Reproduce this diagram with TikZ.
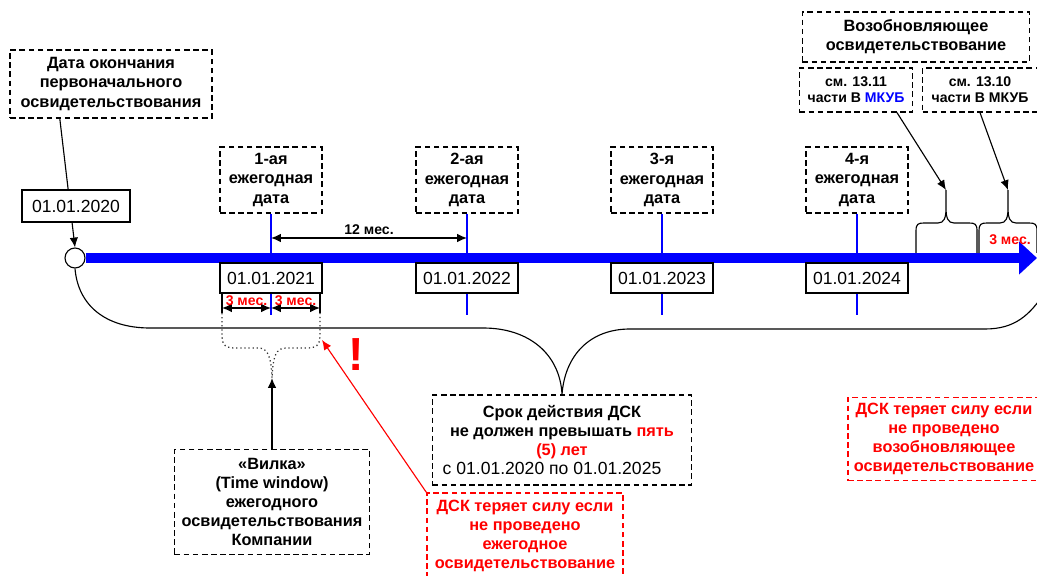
\documentclass[tikz,border=0pt]{standalone}
\usepackage{fontspec}
\setmainfont{Liberation Sans}
\usetikzlibrary{arrows.meta}

\tikzset{
  note/.style={draw, dash pattern=on 4pt off 2.5pt, line width=0.9pt, align=center, inner sep=0pt,
    font=\bfseries\fontsize{11.6}{13.6}\selectfont},
  rednote/.style={note, red, text=red},
  datebox/.style={draw, line width=0.9pt, fill=white, inner sep=0pt,
    minimum width=2.55cm, minimum height=0.75cm, font=\fontsize{12.5}{15}\selectfont},
  tick/.style={blue, line width=1.8pt},
  small/.style={font=\bfseries\fontsize{10}{11.6}\selectfont},
  arr/.style={-{Latex[length=7pt,width=6pt]}, line width=0.8pt},
  dbl/.style={{Latex[length=7pt,width=6pt]}-{Latex[length=7pt,width=6pt]}, line width=0.8pt},
}

\begin{document}
\begin{tikzpicture}[x=0.025cm, y=-0.025cm]
\useasboundingbox (0,0) rectangle (1037,576);

\node(d0)[note, minimum width=5.05cm, minimum height=1.7cm] at (111,84) {Дата окончания\\первоначального\\освидетельствования};
\node(c0)[circle, draw, fill=white, line width=0.8pt, minimum size=0.5cm, inner sep=0pt] at (75,258) {};
\coordinate (end) at (1037,258);
\draw[blue, line width=7pt, -{Triangle[length=0.45cm, width=0.8cm]}] (c0.east) -- (end);
\draw[arr] ([xshift=-1.28cm]d0.south) -- (c0.north);
\node(t0)[datebox, minimum width=2.7cm, minimum height=0.8cm] at (76,206) {01.01.2020};

\foreach \n/\x/\k in {1/271/1-ая, 2/467/2-ая, 3/662/3-я, 4/857/4-я} {
  \node(a\n)[note, minimum width=2.55cm, minimum height=1.65cm] at (\x,180) {\k\\ежегодная\\дата};
  \node(t\n)[datebox] at (\x,278) {01.01.202\n};
  \draw[tick] (a\n.south) -- (a\n.south |- end);
  \draw[tick] (t\n.south) -- ++(0,21);
}

\coordinate (m) at (0,238);
\draw[dbl] (a1.south |- m) -- node[above, small, inner sep=2pt]{12 мес.} (a2.south |- m);

\coordinate (wl) at (222,308);
\coordinate (wr) at (320,308);
\draw[line width=0.8pt] (t1.south -| wl) -- (wl) -- ++(0,5);
\draw[line width=0.8pt] (t1.south -| wr) -- (wr) -- ++(0,5);
\draw[dbl] (wl) -- node[above, small, red, inner sep=1.5pt]{3 мес.} (wl -| t1.south);
\draw[dbl] (wl -| t1.south) -- node[above, small, red, inner sep=1.5pt]{3 мес.} (wr);

\coordinate (wp) at (272,378);
\draw[dotted, line width=0.9pt, black!80] (222,313) -- (222,335) .. controls (222,346) and (226,348) .. (236,348)
  -- (258,348) .. controls (268,348) and (271,356) .. (wp) .. controls (273,356) and (276,348) .. (286,348)
  -- (306,348) .. controls (316,348) and (320,346) .. (320,335) -- (320,313);

\node(v)[note, minimum width=4.875cm, minimum height=2.625cm] at (272,502) {«Вилка»\\(Time window)\\ежегодного\\освидетельствования\\Компании};
\draw[arr] (v.north) -- (wp);

\node(s)[note, minimum width=6.475cm, minimum height=2.25cm] at (562,440) {Срок действия ДСК\\не должен превышать \textcolor{red}{пять}\\\textcolor{red}{(5) лет}\\\mdseries\fontsize{12.5}{13.6}\selectfont с 01.01.2020 по 01.01.2025\hspace*{0.5cm}};
\draw[line width=0.8pt] (c0.south) .. controls (78,305) and (105,328) .. (150,328) -- (483,328)
  .. controls (530,328) and (560,355) .. (s.north) .. controls (565,355) and (590,329) .. (630,329)
  -- (985,329) .. controls (1015,329) and (1030,315) .. (1045,292);

\node(ex)[red, font=\bfseries\fontsize{33}{33}\selectfont] at (356,355) {!};

\node(e1)[rednote, minimum width=4.9cm, minimum height=2.15cm] at (525,536) {ДСК теряет силу если\\не проведено\\ежегодное\\освидетельствование};
\coordinate (wq) at (322,340);
\draw[arr, red] (e1.north west) -- (wq);

\node(e2)[rednote, minimum width=4.8cm, minimum height=2.075cm] at (944,439) {ДСК теряет силу если\\не проведено\\возобновляющее\\освидетельствование};

\node(r0)[note, minimum width=5.675cm, minimum height=1.25cm] at (916,37) {Возобновляющее\\освидетельствование};
\node(r1)[note, small, minimum width=2.825cm, minimum height=1.1cm] at (856,90) {см. 13.11\\части В \textcolor{blue}{МКУБ}};
\node(r2)[note, small, minimum width=2.875cm, minimum height=1.1cm] at (980,90) {см. 13.10\\части В МКУБ};

\coordinate (k1) at (946,190);
\coordinate (k2) at (1008,190);
\foreach \n/\l/\c/\r in {1/916/946/977, 2/979/1008/1037} {
  \draw[line width=0.8pt] (\l,253) -- (\l,231) .. controls (\l,224) and (\l+2,223) .. (\l+8,223) -- (\c-8,223)
    .. controls (\c-2,223) and (\c,218) .. (\c,208) -- (k\n) -- (\c,208) .. controls (\c,218) and (\c+2,223) .. (\c+8,223)
    -- (\r-8,223) .. controls (\r-2,223) and (\r,224) .. (\r,231) -- (\r,253);
}
\draw[arr] ([xshift=1.025cm]r1.south) -- (k1);
\draw[arr] (r2.south) -- (k2);
\node(m3)[small, red] at (1010,240) {3 мес.};
\end{tikzpicture}
\end{document}
